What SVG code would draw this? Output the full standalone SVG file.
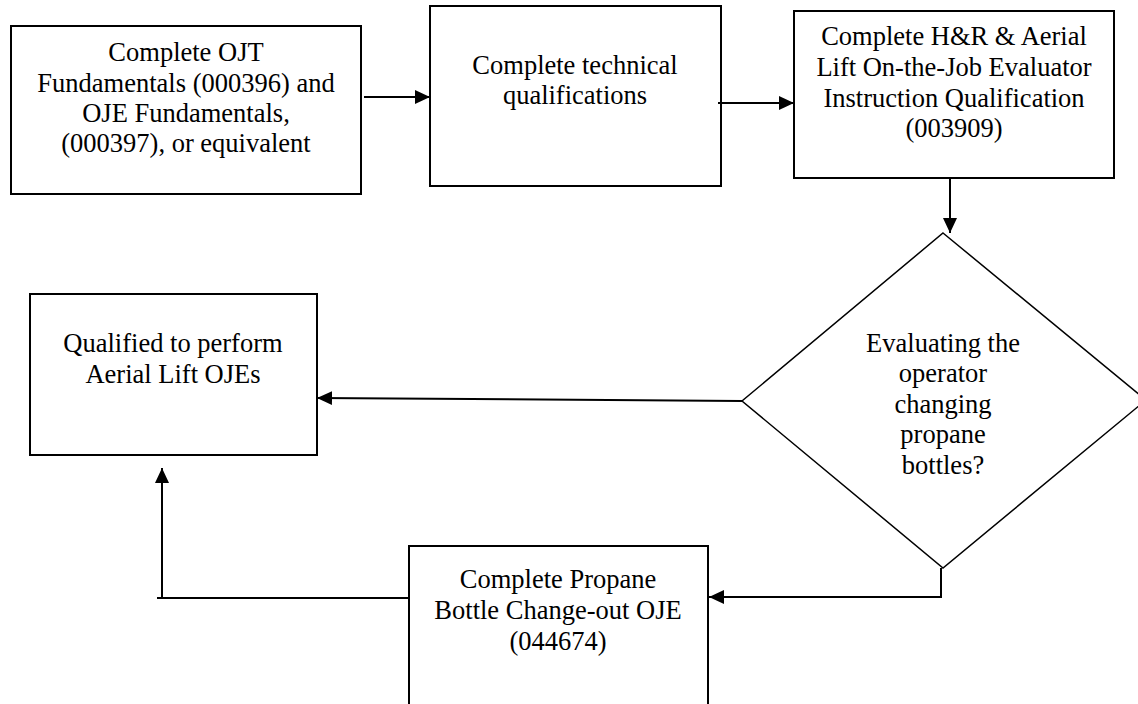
<svg xmlns="http://www.w3.org/2000/svg" width="1138" height="704" viewBox="0 0 1138 704">
<defs>
<marker id="ah" markerUnits="userSpaceOnUse" markerWidth="16" markerHeight="16" viewBox="0 0 16 16" refX="15" refY="8" orient="auto">
<path d="M0,1 L15,8 L0,15 Z" fill="#000"/>
</marker>
<style>
.box{fill:#fff;stroke:#000;stroke-width:2}
.dia{fill:#fff;stroke:#000;stroke-width:1.5}
.t{font-size:26.5px;fill:#000;text-anchor:middle}
.c{fill:none;stroke:#000;stroke-width:2}
</style>
</defs>
<rect width="1138" height="704" fill="#fff"/>
<g font-family="'Liberation Serif', 'Times New Roman', 'DejaVu Serif', serif">
<g id="n1">
<rect class="box" x="11" y="26" width="350" height="168"/>
<text class="t"><tspan x="186" y="61">Complete OJT</tspan><tspan x="186" y="92">Fundamentals (000396) and</tspan><tspan x="186" y="122">OJE Fundamentals,</tspan><tspan x="186" y="152">(000397), or equivalent</tspan></text>
</g>
<g id="n2">
<rect class="box" x="430" y="6" width="291" height="180"/>
<text class="t"><tspan x="575" y="74">Complete technical</tspan><tspan x="575" y="104">qualifications</tspan></text>
</g>
<g id="n3">
<rect class="box" x="794" y="11" width="320" height="167"/>
<text class="t"><tspan x="954" y="45">Complete H&amp;R &amp; Aerial</tspan><tspan x="954" y="76">Lift On-the-Job Evaluator</tspan><tspan x="954" y="107">Instruction Qualification</tspan><tspan x="954" y="137">(003909)</tspan></text>
</g>
<g id="n4">
<polygon class="dia" points="943,233 1146,400 943,568 742,401"/>
<text class="t"><tspan x="943" y="351.5">Evaluating the</tspan><tspan x="943" y="382">operator</tspan><tspan x="943" y="412.5">changing</tspan><tspan x="943" y="443">propane</tspan><tspan x="943" y="473.5">bottles?</tspan></text>
</g>
<g id="n5">
<rect class="box" x="30" y="294" width="287" height="161"/>
<text class="t"><tspan x="173" y="352">Qualified to perform</tspan><tspan x="173" y="383">Aerial Lift OJEs</tspan></text>
</g>
<g id="n6">
<rect class="box" x="409" y="546" width="299" height="180"/>
<text class="t"><tspan x="558" y="588">Complete Propane</tspan><tspan x="558" y="619">Bottle Change-out OJE</tspan><tspan x="558" y="650">(044674)</tspan></text>
</g>
</g>
<g id="connectors">
<line class="c" x1="364" y1="97" x2="430" y2="97" marker-end="url(#ah)"/>
<line class="c" x1="718" y1="103" x2="794" y2="103" marker-end="url(#ah)"/>
<line class="c" x1="950" y1="178" x2="950" y2="233" marker-end="url(#ah)"/>
<line class="c" x1="742" y1="401" x2="317" y2="398" marker-end="url(#ah)"/>
<polyline class="c" points="941,568 941,597 709,597" marker-end="url(#ah)"/>
<line class="c" x1="409" y1="598" x2="157" y2="598"/>
<line class="c" x1="162" y1="598" x2="162" y2="468" marker-end="url(#ah)"/>
</g>
</svg>
